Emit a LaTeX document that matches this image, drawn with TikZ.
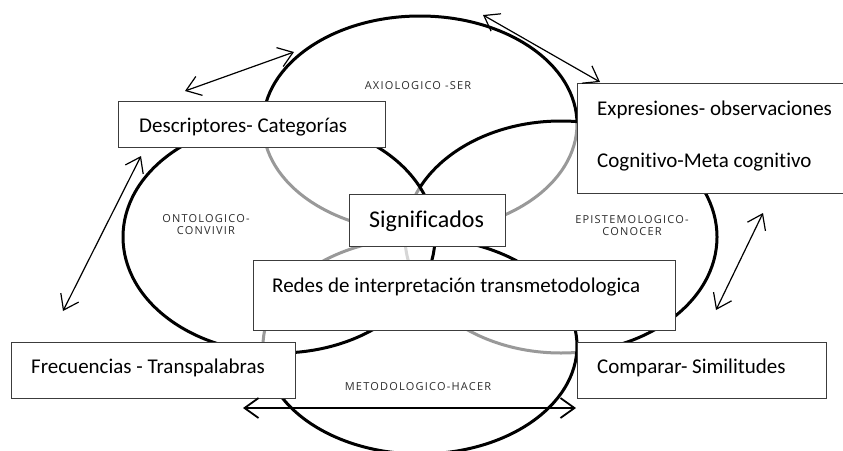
\documentclass[tikz,border=0pt]{standalone}
\usepackage{fontspec}
\setmainfont{Carlito}[Ligatures={NoCommon,NoContextual}]
\newfontfamily\labfont[LetterSpace=11]{Open Sans}
\usetikzlibrary{arrows.meta}
\definecolor{boxgrey}{RGB}{60,60,60}
\definecolor{labgrey}{RGB}{45,45,45}
\begin{document}
\begin{tikzpicture}[x=1pt,y=-1pt,
  venn/.style={line width=3pt, draw=black, fill=white, fill opacity=0.6},
  boxnode/.style={draw=boxgrey, line width=1.4pt, fill=white, anchor=north west, inner sep=0pt},
  txt/.style={anchor=base west, inner sep=0pt, font=\fontsize{21}{25}\selectfont, text=black},
  lab/.style={anchor=base, inner sep=0pt, align=center, font=\labfont\fontsize{11}{11.8}\selectfont, text=labgrey},
  dbl/.style={{Straight Barb[length=14pt,width=20pt]}-{Straight Barb[length=14pt,width=20pt]}, line width=1.2pt, draw=black}
]
\clip (0,0) rectangle (843,450);
\fill[white] (0,0) rectangle (843,450);

% Venn ellipses (back to front)
\draw[venn] (420,124) ellipse [x radius=157pt, y radius=108pt];
\draw[venn] (561,237) ellipse [x radius=156pt, y radius=116pt];
\draw[venn] (420,346) ellipse [x radius=157pt, y radius=108pt];
\draw[venn] (279,237) ellipse [x radius=156pt, y radius=116pt];

% ellipse labels
\node[lab] (lser) at (418,89) {AXIOLOGICO -SER};
\node[lab] (lont) at (206,234.5) {ONTOLOGICO-\\CONVIVIR};
\node[lab] (lepi) at (632,235) {EPISTEMOLOGICO-\\CONOCER};
\node[lab] (lmet) at (418,390) {METODOLOGICO-HACER};

% boxes
\node[boxnode, minimum width=267pt, minimum height=46pt] (descbox) at (118,101) {};
\node[txt] (desct) at (139,132) {Descriptores- Categorías};

\node[boxnode, minimum width=270pt, minimum height=110pt] (expbox) at (577,83) {};
\node[txt] (expt1) at (597,115) {Expresiones- observaciones};
\node[txt] (expt2) at (597,167) {Cognitivo-Meta cognitivo};

\node[boxnode, minimum width=156pt, minimum height=52pt] (sigbox) at (349,194) {};
\node[txt, font=\fontsize{24}{28}\selectfont] (sigt) at (369,227) {Significados};

\node[boxnode, minimum width=422pt, minimum height=70pt] (redbox) at (253,260) {};
\node[txt] (redt) at (272,292) {Redes de interpretación transmetodologica};

\node[boxnode, minimum width=284pt, minimum height=56pt] (frebox) at (11,342) {};
\node[txt] (fret) at (31,373) {Frecuencias - Transpalabras};

\node[boxnode, minimum width=249pt, minimum height=56pt] (combox) at (577,342) {};
\node[txt] (comt) at (597,373) {Comparar- Similitudes};

% arrows
\coordinate (a1s) at (185,91);  \coordinate (a1e) at (294,52);
\coordinate (a2s) at (483,15);  \coordinate (a2e) at (600,82);
\coordinate (a3s) at (141,156); \coordinate (a3e) at (63,311);
\coordinate (a4s) at (763,213); \coordinate (a4e) at (716,310);
\coordinate (a5s) at (243,408); \coordinate (a5e) at (576,408);
\draw[dbl] (a1s) -- (a1e);
\draw[dbl] (a2s) -- (a2e);
\draw[dbl] (a3s) -- (a3e);
\draw[dbl] (a4s) -- (a4e);
\draw[dbl, line width=1.8pt] (a5s) -- (a5e);
\end{tikzpicture}
\end{document}
